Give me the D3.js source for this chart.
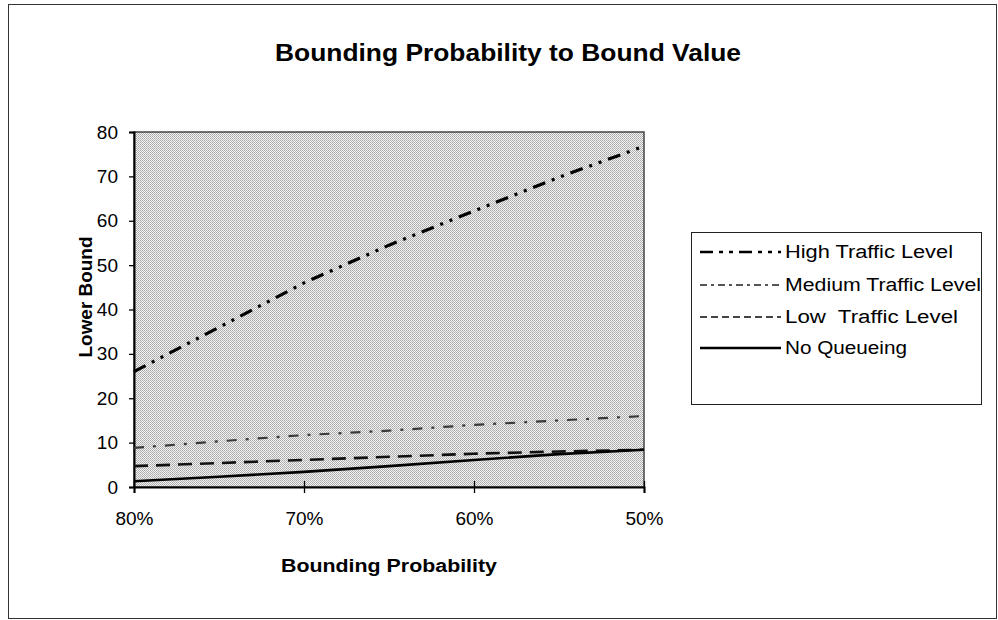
<!DOCTYPE html>
<html><head><meta charset="utf-8">
<script src="https://cdn.jsdelivr.net/npm/d3@7"></script>
<style>body{margin:0;background:#fff}svg{display:block}text{font-family:"Liberation Sans",Arial,sans-serif;fill:#000}</style>
</head><body>
<svg id="c" width="998" height="620"></svg>
<script>
const probs = [80, 75, 70, 65, 60, 55, 50];
const xTicks = [80, 70, 60, 50];
const yTicks = [0, 10, 20, 30, 40, 50, 60, 70, 80];
const highTraffic = [26, 36, 46, 54.5, 62.2, 69.8, 76.8];
const mediumTraffic = [8.8, 10.3, 11.7, 12.7, 14, 15, 16];
const lowTraffic = [4.7, 5.4, 6.1, 6.8, 7.5, 8.0, 8.4];
const noQueueing = [1.3, 2.3, 3.4, 4.7, 6.1, 7.4, 8.4];
const seriesNames = ["High Traffic Level", "Medium Traffic Level", "Low  Traffic Level", "No Queueing"];

const svg = d3.select("#c");
const L = 134, R = 644, T = 132, B = 487;
const x = d3.scaleLinear().domain([80, 50]).range([L, R]);
const y = d3.scaleLinear().domain([0, 80]).range([B, T]);

// outer frame
svg.append("rect").attr("x", 8.5).attr("y", 4.5).attr("width", 988).attr("height", 614)
  .attr("fill", "none").attr("stroke", "#333").attr("stroke-width", 1);

// dither pattern
const defs = svg.append("defs");
const pat = defs.append("pattern").attr("id", "dith").attr("width", 2).attr("height", 2)
  .attr("patternUnits", "userSpaceOnUse");
pat.append("rect").attr("width", 2).attr("height", 2).attr("fill", "#f2f2f2");
pat.append("rect").attr("x", 0).attr("y", 0).attr("width", 1).attr("height", 1).attr("fill", "#a8a8a8");
pat.append("rect").attr("x", 1).attr("y", 1).attr("width", 1).attr("height", 1).attr("fill", "#b6b6b6");

svg.append("rect").attr("x", L).attr("y", T).attr("width", R - L).attr("height", B - T)
  .attr("fill", "url(#dith)").attr("stroke", "#444").attr("stroke-width", 1.5);

// title
svg.append("text").attr("x", 508).attr("y", 61).attr("text-anchor", "middle")
  .attr("font-size", 23).attr("font-weight", "bold")
  .attr("textLength", 466).attr("lengthAdjust", "spacingAndGlyphs")
  .text("Bounding Probability to Bound Value");

// axes
const yAxis = svg.append("g").attr("transform", `translate(${L},0)`)
  .call(d3.axisLeft(y).tickValues(yTicks).tickSize(5).tickPadding(11));
yAxis.select(".domain").attr("stroke", "#000").attr("stroke-width", 2);
yAxis.selectAll(".tick line").attr("stroke", "#000").attr("stroke-width", 1.3);
yAxis.selectAll("text").attr("font-size", 19).attr("font-family", "Liberation Sans, Arial, sans-serif");

const xAxis = svg.append("g").attr("transform", `translate(0,${B})`)
  .call(d3.axisBottom(x).tickValues(xTicks).tickFormat(d => d + "%").tickSize(6).tickPadding(19));
xAxis.select(".domain").attr("stroke", "#000").attr("stroke-width", 2);
xAxis.selectAll(".tick line").attr("stroke", "#000").attr("stroke-width", 1.3).attr("y1", -6);
xAxis.selectAll("text").attr("font-size", 19).attr("font-family", "Liberation Sans, Arial, sans-serif");

// axis titles
svg.append("text").attr("x", 389).attr("y", 572).attr("text-anchor", "middle")
  .attr("font-size", 18).attr("font-weight", "bold")
  .attr("textLength", 216).attr("lengthAdjust", "spacingAndGlyphs")
  .text("Bounding Probability");
svg.append("text").attr("transform", "translate(92,297) rotate(-90)").attr("text-anchor", "middle")
  .attr("font-size", 18).attr("font-weight", "bold")
  .attr("textLength", 121).attr("lengthAdjust", "spacingAndGlyphs")
  .text("Lower Bound");

// series
const styles = [
  {data: highTraffic, dash: "13,7,3,7,3,7", w: 3.2, c: "#000"},
  {data: mediumTraffic, dash: "10,9,3,9", w: 2.2, c: "#3a3a3a"},
  {data: lowTraffic, dash: "14,8", w: 2.6, c: "#111"},
  {data: noQueueing, dash: null, w: 2.6, c: "#000"}
];
const line = d3.line().x((d, i) => x(probs[i])).y(d => y(d));
styles.forEach(s => {
  svg.append("path").datum(s.data).attr("d", line).attr("fill", "none")
    .attr("stroke", s.c).attr("stroke-width", s.w).attr("stroke-dasharray", s.dash);
});

// legend
svg.append("rect").attr("x", 691.5).attr("y", 232.5).attr("width", 290).attr("height", 172)
  .attr("fill", "#fff").attr("stroke", "#222").attr("stroke-width", 1);
const legY = [252, 285, 317, 348];
const legLen = [168, 196, 173, 122];
const legDash = ["13,6,4,6,4,6", "7,4,3,4", "7,4", null];
const legColor = ["#000", "#555", "#444", "#000"];
seriesNames.forEach((n, i) => {
  svg.append("line").attr("x1", 700).attr("x2", 781).attr("y1", legY[i]).attr("y2", legY[i])
    .attr("stroke", legColor[i]).attr("stroke-width", i === 0 || i === 3 ? 2.4 : 2).attr("stroke-dasharray", legDash[i]);
  svg.append("text").attr("x", 785).attr("y", legY[i] + 6).attr("font-size", 18)
    .attr("textLength", legLen[i]).attr("lengthAdjust", "spacingAndGlyphs")
    .attr("xml:space", "preserve").style("white-space", "pre")
    .text(n);
});
</script>
</body></html>
